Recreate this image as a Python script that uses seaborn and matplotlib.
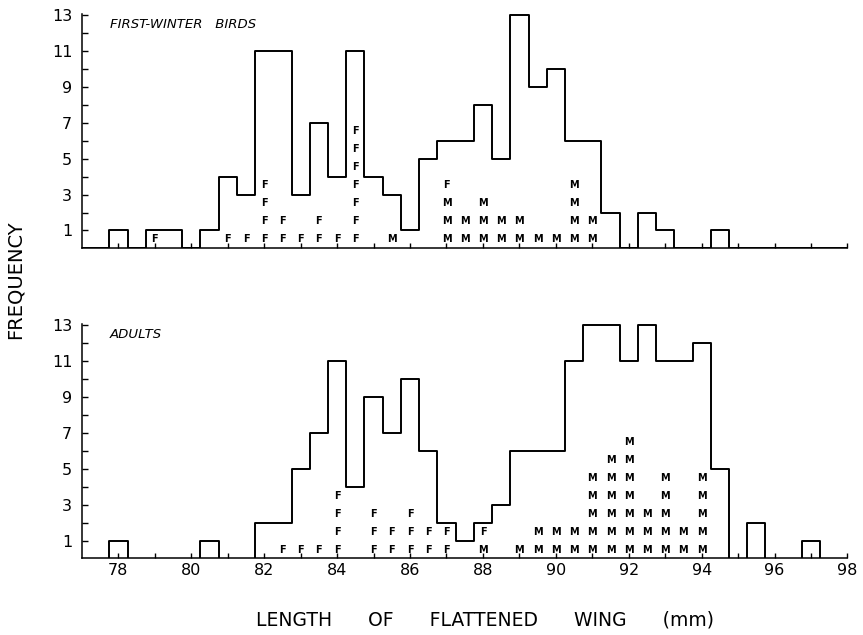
import numpy as np
import pandas as pd
import seaborn as sns
import matplotlib.pyplot as plt

# first-winter birds: bin centre (mm) and count
fw_len = [78.0, 79.0, 79.5, 80.5, 81.0, 81.5, 82.0, 82.5, 83.0, 83.5, 84.0, 84.5,
          85.0, 85.5, 86.0, 86.5, 87.0, 87.5, 88.0, 88.5, 89.0, 89.5, 90.0, 90.5,
          91.0, 91.5, 92.5, 93.0, 94.5]
fw_n = [1, 1, 1, 1, 4, 3, 11, 11, 3, 7, 4, 11,
        4, 3, 1, 5, 6, 6, 8, 5, 13, 9, 10, 6,
        6, 2, 2, 1, 1]
# sexed birds (F / M) in the first-winter sample
fw_f_len = [79.0, 81.0, 81.5, 82.0, 82.5, 83.0, 83.5, 84.0, 84.5, 87.0]
fw_f_n = [1, 1, 1, 4, 2, 1, 2, 1, 7, 1]
fw_m_len = [85.5, 87.0, 87.5, 88.0, 88.5, 89.0, 89.5, 90.0, 90.5, 91.0]
fw_m_n = [1, 3, 2, 3, 2, 2, 1, 1, 4, 2]

# adults
ad_len = [78.0, 80.5, 82.0, 82.5, 83.0, 83.5, 84.0, 84.5, 85.0, 85.5, 86.0, 86.5,
          87.0, 87.5, 88.0, 88.5, 89.0, 89.5, 90.0, 90.5, 91.0, 91.5, 92.0, 92.5,
          93.0, 93.5, 94.0, 94.5, 95.5, 97.0]
ad_n = [1, 1, 2, 2, 5, 7, 11, 4, 9, 7, 10, 6,
        2, 1, 2, 3, 6, 6, 6, 11, 13, 13, 11, 13,
        11, 11, 12, 5, 2, 1]
ad_f_len = [82.5, 83.0, 83.5, 84.0, 85.0, 85.5, 86.0, 86.5, 87.0, 88.0]
ad_f_n = [1, 1, 1, 4, 3, 2, 3, 2, 2, 1]
ad_m_len = [88.0, 89.0, 89.5, 90.0, 90.5, 91.0, 91.5, 92.0, 92.5, 93.0, 93.5, 94.0]
ad_m_n = [1, 1, 2, 2, 2, 5, 6, 7, 3, 5, 2, 5]

sns.set_style("ticks")
plt.rcParams['font.family'] = ['DejaVu Sans']
plt.rcParams['text.color'] = 'black'
plt.rcParams['xtick.color'] = 'black'
plt.rcParams['ytick.color'] = 'black'

edges = np.arange(76.75, 98.3, 0.5).tolist()

fig = plt.figure(figsize=(8.63, 6.35), dpi=100)
ax1 = fig.add_axes([0.095, 0.6087, 0.887, 0.3693])
ax2 = fig.add_axes([0.095, 0.1217, 0.887, 0.3676])


def draw_panel(ax, lens, counts, f_len, f_n, m_len, m_n, title, ybot, show_x):
    df = pd.DataFrame({"wing": lens, "n": counts})
    sns.histplot(data=df, x="wing", weights="n", bins=edges, element="step",
                 fill=False, color="black", linewidth=1.4, ax=ax)
    # stacked sex letters: males first, females on top
    m_dict = dict(zip(m_len, m_n))
    f_dict = dict(zip(f_len, f_n))
    for c in sorted(set(m_len) | set(f_len)):
        letters = "M" * m_dict.get(c, 0) + "F" * f_dict.get(c, 0)
        for k, ch in enumerate(letters):
            ax.text(c, k + 0.52, ch, ha="center", va="center", fontsize=7,
                    fontweight="bold", color="black")
    ax.set_xlim(77, 98)
    ax.set_ylim(ybot, 13.04)
    ax.set_xticks(range(78, 99, 2))
    ax.set_xticks(range(79, 98, 2), minor=True)
    ax.set_yticks(range(1, 14, 2))
    ax.set_yticks(range(2, 13, 2), minor=True)
    ax.tick_params(axis="both", which="both", direction="in", width=1.0, color="black",
                   labelcolor="black")
    ax.tick_params(axis="x", which="both", length=3.5, labelsize=11.5, pad=4)
    ax.tick_params(axis="y", which="both", length=4, labelsize=11.5, pad=7)
    if not show_x:
        ax.tick_params(axis="x", labelbottom=False)
    ax.set_xlabel("")
    ax.set_ylabel("")
    sns.despine(ax=ax)
    for s in ["left", "bottom"]:
        ax.spines[s].set_linewidth(1.1)
        ax.spines[s].set_color("black")
    ax.text(0.036, 0.955, title, transform=ax.transAxes, fontsize=9.5,
            fontstyle="italic", ha="left", va="center")


draw_panel(ax1, fw_len, fw_n, fw_f_len, fw_f_n, fw_m_len, fw_m_n,
           "FIRST-WINTER   BIRDS", 0, False)
draw_panel(ax2, ad_len, ad_n, ad_f_len, ad_f_n, ad_m_len, ad_m_n,
           "ADULTS", 0.1, True)

fig.text(15 / 863, 1 - 280 / 635, "FREQUENCY", rotation=90, ha="center",
         va="center", fontsize=14)
fig.text(485 / 863, 1 - 620 / 635, "LENGTH      OF      FLATTENED      WING      (mm)",
         ha="center", va="center", fontsize=13.5)

fig.savefig("out.png", dpi=100)
